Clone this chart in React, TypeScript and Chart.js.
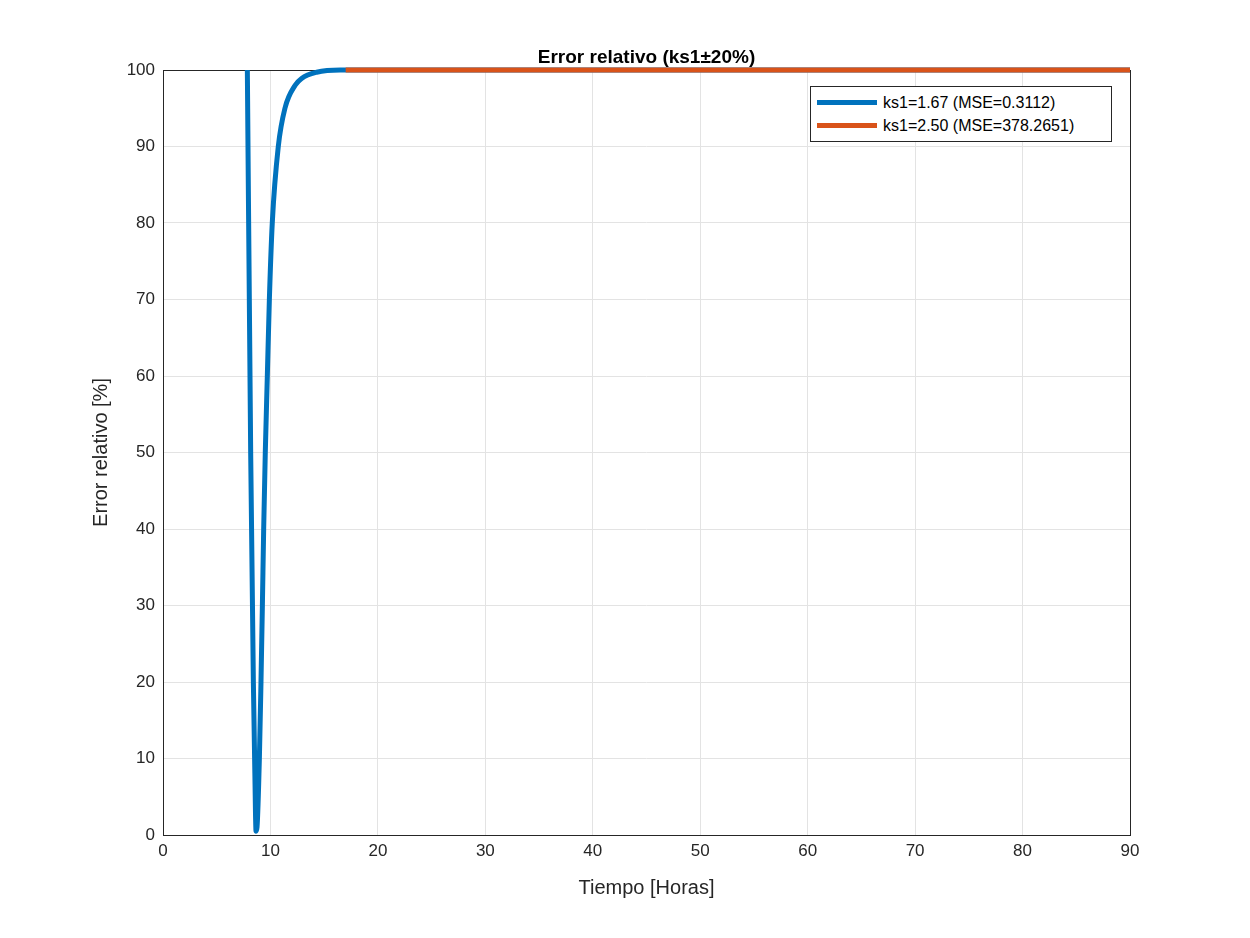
import { useEffect, useRef } from "react";
import { Chart, registerables } from "chart.js";

Chart.register(...registerables);

// Tiempo [Horas] and error relativo [%] for ks1=1.67
const timeBlue = [7.85, 8.16, 8.41, 8.55, 8.66, 8.75, 8.97, 9.12, 9.25, 9.37, 9.52, 9.71, 9.9, 10.17, 10.73, 11.35, 12.3, 12.9, 14.3, 16.5, 20, 90];
const errBlue = [100, 50, 20, 8, 0.5, 1, 10, 20, 30, 40, 50, 60, 70, 80, 90, 95, 98, 98.9, 99.7, 100, 100, 100];
// ks1=2.50 stays hidden behind the blue curve
const timeOrange = [17, 90];
const errOrange = [100, 100];

const xTicks = [0, 10, 20, 30, 40, 50, 60, 70, 80, 90];
const yTicks = [0, 10, 20, 30, 40, 50, 60, 70, 80, 90, 100];

const FONT = "'Liberation Sans', Arial, sans-serif";

export default function App() {
  const ref = useRef<HTMLCanvasElement>(null);

  useEffect(() => {
    if (!ref.current) return;
    const frame = {
      id: "frame",
      beforeDatasetsDraw(c: Chart) {
        const { ctx, chartArea: a } = c;
        ctx.save();
        ctx.strokeStyle = "#262626";
        ctx.lineWidth = 1;
        ctx.strokeRect(a.left + 0.5, a.top + 0.5, a.right - a.left, a.bottom - a.top);
        ctx.restore();
      },
      afterDraw(c: Chart) {
        const { ctx, chartArea: a } = c;
        ctx.save();
        ctx.fillStyle = "#000";
        ctx.font = `bold 19px ${FONT}`;
        ctx.textAlign = "center";
        ctx.fillText("Error relativo (ks1±20%)", (a.left + a.right) / 2, 63);
        ctx.fillStyle = "#262626";
        ctx.font = `20px ${FONT}`;
        ctx.fillText("Tiempo [Horas]", (a.left + a.right) / 2, 894);
        ctx.translate(107, (a.top + a.bottom) / 2);
        ctx.rotate(-Math.PI / 2);
        ctx.fillText("Error relativo [%]", 0, 0);
        ctx.restore();
      },
    };
    const chart = new Chart(ref.current, {
      type: "scatter",
      data: {
        datasets: [
          {
            label: "ks1=2.50 (MSE=378.2651)",
            data: timeOrange.map((x, i) => ({ x, y: errOrange[i] })),
            borderColor: "#D95319",
            borderWidth: 5,
            showLine: true,
            pointRadius: 0,
            clip: 4,
          },
          {
            label: "ks1=1.67 (MSE=0.3112)",
            data: timeBlue.map((x, i) => ({ x, y: errBlue[i] })),
            borderColor: "#0072BD",
            borderWidth: 5,
            showLine: true,
            pointRadius: 0,
            cubicInterpolationMode: "monotone",
            clip: 4,
          },
        ],
      },
      options: {
        animation: false,
        responsive: false,
        layout: { padding: { top: 70, right: 120, left: 0, bottom: 0 } },
        plugins: { legend: { display: false }, tooltip: { enabled: false } },
        scales: {
          x: {
            type: "linear",
            min: 0,
            max: 90,
            afterBuildTicks: (s: any) => { s.ticks = xTicks.map((v) => ({ value: v })); },
            afterFit: (s: any) => { s.height = 103; },
            grid: { color: "#e3e3e3", tickLength: 0 },
            border: { display: false },
            ticks: { color: "#262626", font: { family: FONT, size: 17 }, padding: 6, maxRotation: 0 },
          },
          y: {
            min: 0,
            max: 100,
            afterBuildTicks: (s: any) => { s.ticks = yTicks.map((v) => ({ value: v })); },
            afterFit: (s: any) => { s.width = 163; },
            grid: { color: "#e3e3e3", tickLength: 0 },
            border: { display: false },
            ticks: { color: "#262626", font: { family: FONT, size: 17 }, padding: 8 },
          },
        },
      },
      plugins: [frame],
    });
    return () => chart.destroy();
  }, []);

  return (
    <div style={{ position: "relative", width: 1250, height: 938, margin: -8, background: "#fff" }}>
      <canvas ref={ref} width={1250} height={938} />
      <div
        style={{
          position: "absolute", left: 810, top: 86, width: 302, height: 56,
          border: "1px solid #262626", background: "#fff", fontFamily: FONT, fontSize: 16,
          color: "#000", boxSizing: "border-box", padding: "4px 6px",
        }}
      >
        {[["#0072BD", "ks1=1.67 (MSE=0.3112)"], ["#D95319", "ks1=2.50 (MSE=378.2651)"]].map(([c, t]) => (
          <div key={t} style={{ display: "flex", alignItems: "center", height: 23 }}>
            <span style={{ display: "inline-block", width: 60, height: 5, background: c, marginRight: 6 }} />
            {t}
          </div>
        ))}
      </div>
    </div>
  );
}
